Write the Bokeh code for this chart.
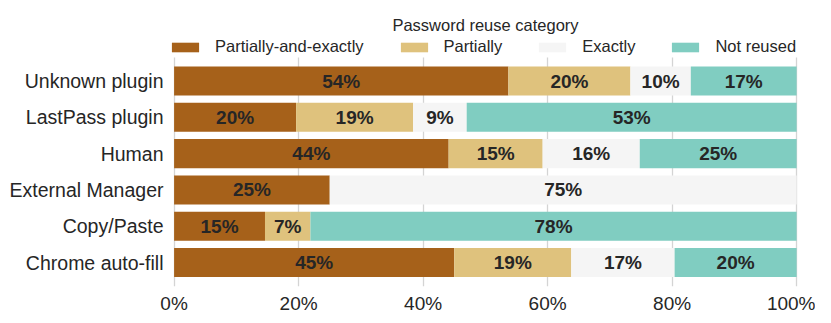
from bokeh.plotting import figure
from bokeh.models import (ColumnDataSource, Range1d, FixedTicker,
                          PrintfTickFormatter, Legend, LegendItem, Label)
from bokeh.core.properties import value
from bokeh.embed import file_html
from bokeh.resources import INLINE

# ---- data -------------------------------------------------------------
categories = ["Unknown plugin", "LastPass plugin", "Human",
              "External Manager", "Copy/Paste", "Chrome auto-fill"]
series = ["Partially-and-exactly", "Partially", "Exactly", "Not reused"]
partially_and_exactly = [53.7, 19.6, 44.1, 25.0, 14.6, 45.0]
partially = [19.6, 18.8, 15.1, 0.0, 7.3, 18.8]
exactly = [9.7, 8.6, 15.6, 75.0, 0.0, 16.6]
not_reused = [17.0, 53.0, 25.2, 0.0, 78.1, 19.6]
colors = ["#a6611a", "#dfc27d", "#f5f5f5", "#80cdc1"]
x_ticks = [0, 20, 40, 60, 80, 100]
legend_title = "Password reuse category"

FONT = "Liberation Sans"
TXT = "#262626"

n = len(categories)
ypos = [n - 1 - i for i in range(n)]          # first category on top

keys = ["pe", "p", "e", "nr"]
src = ColumnDataSource(dict(y=ypos, pe=partially_and_exactly,
                            p=partially, e=exactly, nr=not_reused))

# label table built from the arrays
lab = dict(y=[], x=[], text=[])
all_vals = [partially_and_exactly, partially, exactly, not_reused]
for i in range(n):
    left = 0.0
    for vals in all_vals:
        v = vals[i]
        if v > 0:
            lab["y"].append(ypos[i])
            lab["x"].append(left + v / 2.0)
            lab["text"].append(f"{v:.0f}%")
        left += v
lsrc = ColumnDataSource(lab)

# layout constants
FRAME_H = 286
PITCH = 36.3
Y0 = -0.66
Y_BAR_TOP = (n - 1) + 0.66
Y1 = Y0 + FRAME_H / PITCH

p = figure(frame_width=630, frame_height=FRAME_H,
           y_range=Range1d(Y0, Y1),
           x_range=Range1d(-0.9, 100.3),
           title=None,
           output_backend="svg", toolbar_location=None,
           min_border_left=168, min_border_right=17,
           min_border_bottom=29, min_border_top=0)
p.outline_line_color = None
p.background_fill_color = "white"
p.border_fill_color = "white"

renderers = p.hbar_stack(keys, y="y", height=0.8, color=colors,
                         line_color=None, source=src)

p.text(x="x", y="y", text="text", source=lsrc,
       text_align="center", text_baseline="middle",
       text_font=value(FONT), text_font_size="19px",
       text_font_style="bold", text_color=TXT)

# axes
p.xaxis.ticker = FixedTicker(ticks=x_ticks)
p.xaxis.formatter = PrintfTickFormatter(format="%d%%")
p.yaxis.ticker = FixedTicker(ticks=ypos)
p.yaxis.major_label_overrides = {y: c for y, c in zip(ypos, categories)}
for ax in (p.xaxis[0], p.yaxis[0]):
    ax.axis_line_color = None
    ax.major_tick_line_color = None
    ax.minor_tick_line_color = None
    ax.major_tick_out = 0
    ax.major_label_text_font = FONT
    ax.major_label_text_color = TXT
p.xaxis.major_label_text_font_size = "19px"
p.yaxis.major_label_text_font_size = "19.5px"
p.xaxis.major_label_standoff = 6
p.yaxis.major_label_standoff = 5

p.xgrid.ticker = FixedTicker(ticks=x_ticks)
p.xgrid.grid_line_color = "#d4d4d4"
p.xgrid.grid_line_width = 1.3
p.xgrid.cross_bounds = (Y0, Y_BAR_TOP)
p.ygrid.grid_line_color = None

items = [LegendItem(label=s, renderers=[r]) for s, r in zip(series, renderers)]
legend = Legend(items=items, orientation="horizontal", location=(0, 230),
                glyph_width=34, glyph_height=12, label_standoff=13,
                spacing=33, padding=0, margin=0,
                label_text_font=FONT, label_text_font_size="16.5px",
                label_text_color=TXT, border_line_color=None,
                background_fill_alpha=0)
p.add_layout(legend, "center")

p.add_layout(Label(x=317, y=FRAME_H - 24, x_units="screen", y_units="screen",
                   text=legend_title, text_align="center",
                   text_baseline="middle", text_font=FONT,
                   text_font_size="16.5px", text_color=TXT))

open("out.html", "w").write(file_html(p, INLINE))
